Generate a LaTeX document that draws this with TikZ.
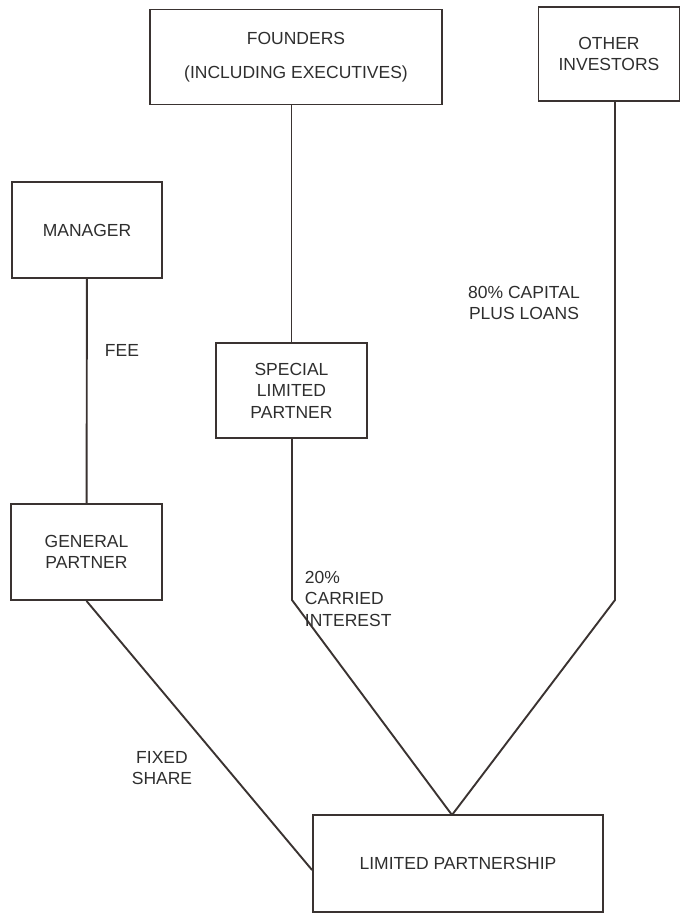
\documentclass[tikz,border=0pt]{standalone}
\usepackage{fontspec}
\setmainfont{Liberation Sans}
\usetikzlibrary{positioning}
\definecolor{ink}{HTML}{3A3331}
\definecolor{print}{HTML}{2E2E2E}
\newlength{\smallwidth}
\setlength{\smallwidth}{151pt}
\newlength{\smallheight}
\setlength{\smallheight}{96pt}
\newcommand{\founderstext}{FOUNDERS\\[12pt](INCLUDING EXECUTIVES)}
\newcommand{\otherstext}{OTHER\\INVESTORS}
\newcommand{\managertext}{MANAGER}
\newcommand{\specialtext}{SPECIAL\\LIMITED\\PARTNER}
\newcommand{\generaltext}{GENERAL\\PARTNER}
\newcommand{\limitedtext}{LIMITED PARTNERSHIP}

\begin{document}
\begin{tikzpicture}[x=1pt, y=-1pt, line width=1.9pt, draw=ink,
  every node/.style={font=\fontsize{17.5pt}{21.5pt}\selectfont, text=print},
  block/.style={rectangle, draw, inner sep=0pt, align=center, minimum width=\smallwidth, minimum height=\smallheight},
  note/.style={inner sep=0pt, align=center}]
  \useasboundingbox (0,0) rectangle (681,914);
  %boxes
  \draw (296,57) node[block, minimum width=292pt, minimum height=95pt] (A) {\founderstext};
  \draw (609,54) node[block, minimum width=141pt, minimum height=94pt] (B) {\otherstext};
  \draw (87,230) node[block, minimum width=150pt] (C) {\managertext};
  \draw (291.5,390.5) node[block, minimum height=95pt] (D) {\specialtext};
  \draw (86.5,552) node[block] (E) {\generaltext};
  \draw (458,863.5) node[block, minimum width=290pt, minimum height=97pt] (F) {\limitedtext};

  %bends and meeting point
  \coordinate (apex) at (452,815);
  \coordinate (dbend) at (292,600);
  \coordinate (bbend) at (615,600);

  %connecting lines
  \draw (D.north |- A.south) -- (D.north);
  \draw (C) -- (E);
  \draw (D.south -| dbend) -- (dbend) -- (apex);
  \draw (B.south -| bbend) -- (bbend) -- (apex);
  \draw (E.south) -- ([yshift=-6.5pt]F.west);

  %texts on the lines
  \node[note, anchor=west] (fee) at (104,350) {FEE};
  \node[note] (capital) at (524,303) {80\% CAPITAL\\PLUS LOANS};
  \node[note, anchor=north west, align=left] (carried) at (304,570) {20\%\\CARRIED\\INTEREST};
  \node[note] (fixed) at (162,768) {FIXED\\SHARE};
\end{tikzpicture}
\end{document}
